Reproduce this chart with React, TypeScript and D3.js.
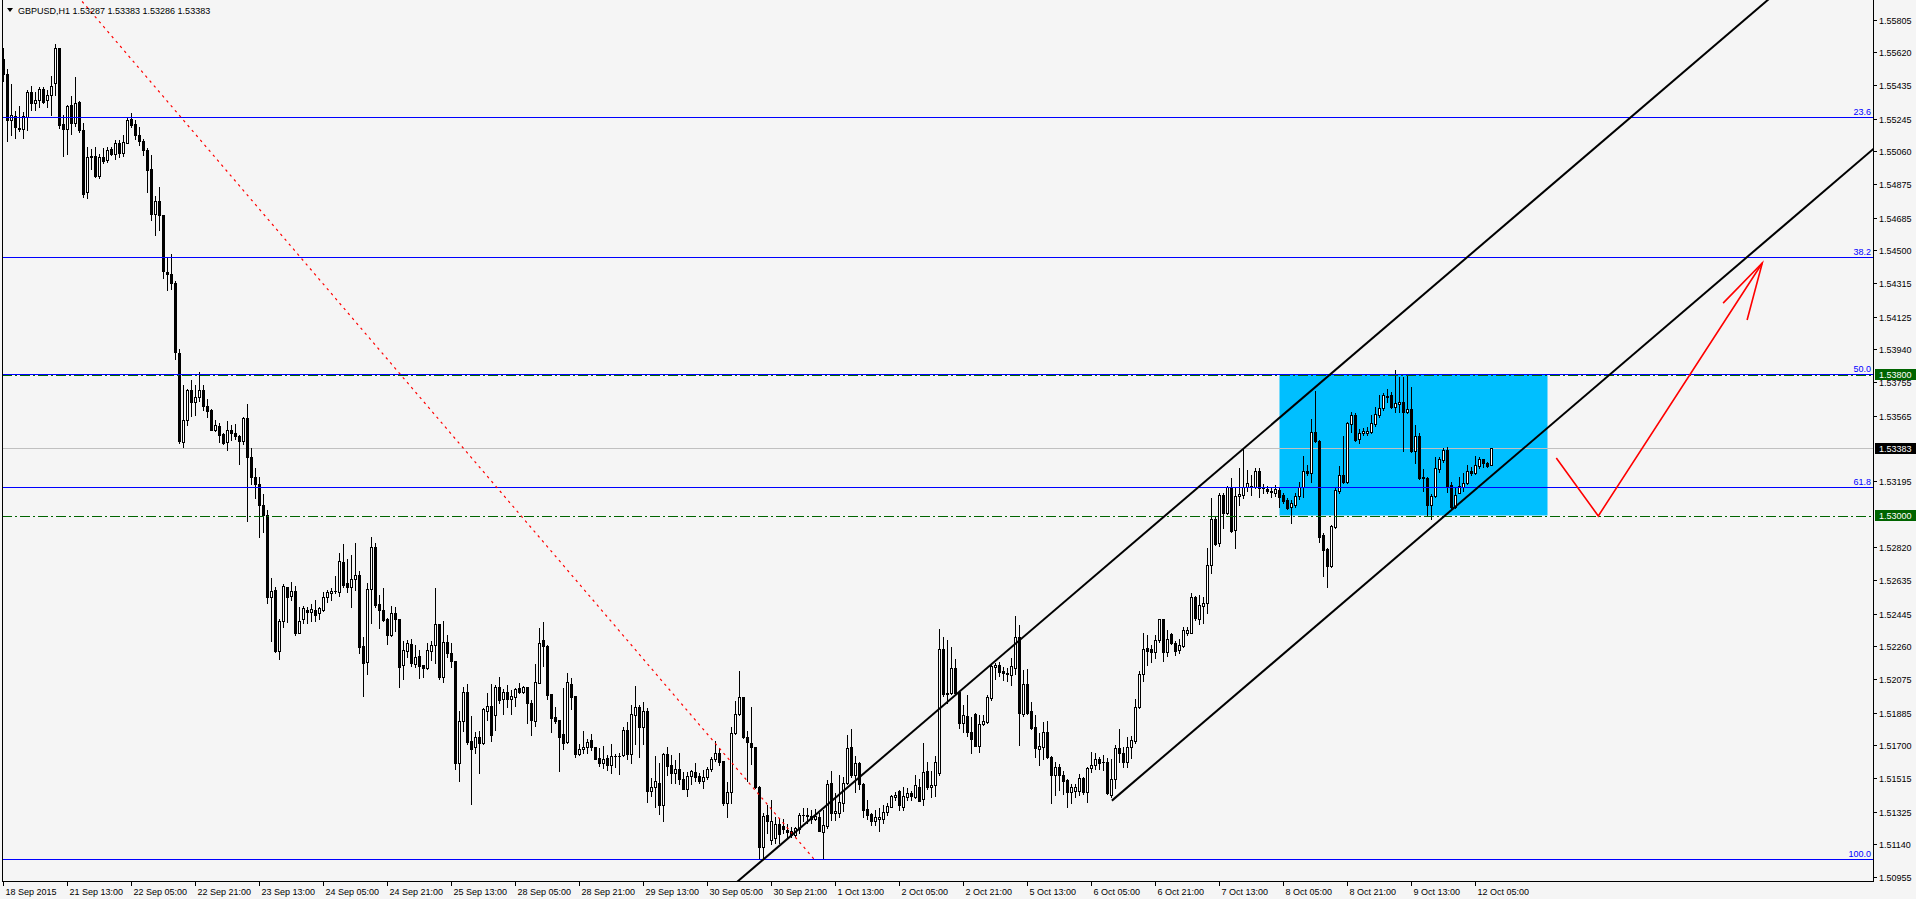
import React from 'react';
import * as d3 from 'd3';

// ---------- DATA ----------
// Candles: [open, high, low, close] in pips above 1.50000 (GBPUSD, H1)
const BASE_PRICE = 1.5;
const PIP = 0.0001;
const candles: number[][] = [
  [558.0,564.2,545.7,549.7],[549.7,552.4,511.8,523.4],[523.4,544.1,515.1,526.6],[525.7,528.5,513.5,519.7],
  [519.2,531.7,517.4,518.3],[518.8,528.0,513.2,525.7],[525.2,540.4,517.8,539.5],[539.5,542.7,529.4,533.1],
  [533.1,539.5,529.4,534.9],[534.9,542.3,530.8,541.1],[541.1,542.3,533.1,534.0],[534.9,540.4,530.8,537.7],
  [537.7,548.7,526.6,542.7],[544.6,566.7,537.7,564.4],[564.4,564.4,519.2,521.1],[521.5,526.6,503.1,518.3],
  [518.8,532.1,504.2,531.7],[532.1,537.2,515.5,522.0],[522.0,548.1,520.4,533.1],[534.0,534.4,516.9,518.1],
  [518.1,522.0,480.0,481.9],[482.8,508.2,479.6,502.6],[502.6,507.2,496.2,503.1],[503.1,508.2,491.6,492.0],
  [492.0,504.2,490.6,502.6],[502.6,507.7,499.6,500.3],[500.8,508.2,500.1,506.8],[507.0,508.2,503.6,504.5],
  [504.5,512.3,501.7,510.5],[510.5,512.3,502.6,504.9],[504.9,515.1,503.1,511.2],[510.9,525.0,510.5,523.8],
  [524.3,527.8,519.7,521.1],[521.5,523.8,512.8,515.1],[515.1,519.7,509.5,511.8],[511.8,512.8,504.0,506.6],
  [506.8,507.7,482.8,495.2],[495.7,504.0,467.1,470.3],[470.3,480.5,458.6,477.7],[477.7,485.8,461.6,469.7],
  [470.1,470.1,434.4,438.1],[437.6,445.4,427.5,436.7],[436.7,447.7,427.9,431.6],[431.6,432.8,388.7,392.4],
  [392.0,394.3,341.2,342.2],[341.7,374.0,338.9,353.7],[353.7,371.7,350.9,371.2],[371.2,376.7,356.0,364.3],
  [364.3,374.0,356.7,367.1],[367.1,381.3,364.7,371.2],[371.2,374.0,359.7,362.0],[362.0,365.7,355.5,359.0],
  [359.5,360.1,348.2,348.6],[348.6,353.7,347.7,350.9],[350.5,352.1,341.7,345.4],[345.8,346.8,340.3,341.2],
  [341.7,353.3,337.1,348.6],[348.6,351.4,342.6,346.8],[346.8,351.8,343.5,344.9],[344.9,345.4,329.0,342.2],
  [342.2,355.5,340.6,355.1],[355.1,363.3,297.0,332.9],[332.9,338.0,318.0,322.0],[322.0,327.0,310.0,318.0],
  [318.0,322.0,287.6,306.0],[306.0,312.0,290.8,300.0],[300.0,303.0,250.3,253.7],[253.7,264.4,229.2,257.5],
  [257.8,259.3,223.0,223.5],[223.5,241.6,219.0,240.1],[240.1,261.2,236.7,260.1],[259.3,259.7,239.9,253.7],
  [254.4,262.4,252.2,257.1],[257.1,260.1,232.6,233.7],[233.3,248.0,233.3,240.1],[241.6,248.8,239.0,247.4],
  [246.5,248.0,239.4,245.6],[245.6,249.9,240.5,246.9],[246.5,252.2,240.5,243.9],[245.0,248.4,241.2,247.4],
  [246.5,256.7,246.1,254.1],[253.7,257.8,251.2,256.7],[256.3,258.8,252.2,257.3],[257.1,265.7,256.3,257.3],
  [256.7,278.9,254.4,274.0],[273.7,283.8,259.7,260.9],[261.6,275.2,256.9,259.7],[259.7,277.6,248.4,264.2],
  [263.9,284.2,257.8,266.1],[266.1,268.8,222.4,225.8],[226.2,231.0,198.1,216.7],[217.3,261.6,210.3,258.2],
  [258.2,287.6,239.4,281.9],[281.9,284.2,248.0,249.3],[249.7,255.0,236.5,246.5],[246.5,258.8,240.5,240.9],
  [241.6,242.0,227.3,232.6],[232.4,248.8,231.8,244.6],[244.6,248.0,234.8,241.2],[241.2,241.6,203.2,214.5],
  [215.6,229.2,207.7,223.9],[223.5,229.5,220.1,227.7],[227.3,230.3,214.8,216.7],[216.0,226.7,214.5,220.1],
  [220.5,223.9,208.3,214.8],[215.4,215.4,208.8,213.9],[213.5,228.0,213.2,223.9],[223.5,229.2,218.2,226.7],
  [226.7,258.8,216.7,238.4],[238.4,238.4,207.7,208.8],[208.8,240.3,206.0,228.2],[228.2,232.4,220.1,222.0],
  [222.0,227.7,214.5,217.9],[217.5,217.5,156.4,160.2],[160.2,189.4,150.0,183.5],[183.5,202.8,178.3,200.3],
  [200.3,204.5,170.7,172.0],[172.4,186.6,136.8,168.1],[168.8,177.3,165.4,174.9],[174.9,178.3,154.5,171.1],
  [171.1,191.3,170.7,190.3],[189.6,199.4,184.3,192.2],[192.2,204.7,172.6,176.0],[187.1,204.1,178.6,202.8],
  [202.8,208.4,193.7,195.6],[196.4,202.0,187.7,200.1],[200.1,203.9,191.8,196.4],[196.4,201.3,187.7,197.9],
  [197.1,202.4,192.2,202.0],[202.2,205.0,199.8,200.3],[200.3,203.5,199.4,202.8],[202.8,203.2,182.8,194.1],
  [194.1,195.6,176.0,184.3],[183.9,216.0,180.9,205.6],[205.4,236.5,205.0,227.7],[229.5,239.7,214.8,226.3],
  [226.3,226.7,196.4,198.6],[199.0,199.0,177.5,185.4],[185.8,191.5,182.4,183.9],[184.3,184.3,155.5,174.9],
  [176.4,202.6,168.1,171.5],[172.0,210.7,171.1,205.6],[204.7,207.9,190.5,197.5],[197.9,197.9,163.6,165.1],
  [165.1,170.7,164.7,167.7],[167.7,177.9,165.4,168.8],[169.2,173.7,165.4,171.7],[173.0,176.4,167.3,168.8],
  [168.8,169.2,162.1,162.4],[162.8,168.3,158.3,159.8],[159.8,169.6,157.0,162.1],[162.8,164.7,156.0,159.0],
  [159.0,170.7,154.5,163.9],[163.9,164.9,157.9,164.1],[164.1,165.8,154.0,164.1],[164.3,180.5,163.9,178.6],
  [178.6,183.2,162.1,165.1],[165.1,193.0,160.2,187.7],[187.3,203.5,170.7,191.5],[191.8,192.6,163.2,180.5],
  [180.5,194.5,170.7,189.2],[189.2,190.9,138.1,144.3],[144.3,151.3,141.3,146.2],[146.2,163.9,134.9,149.6],
  [148.9,159.8,131.1,136.4],[136.0,165.8,127.4,165.1],[165.1,169.2,153.0,158.3],[158.7,164.3,148.5,154.5],
  [154.5,161.7,148.9,156.4],[156.4,165.8,148.1,150.7],[151.1,154.9,145.5,145.5],[145.5,154.9,141.3,152.6],
  [152.6,156.0,148.1,155.3],[154.9,159.8,150.0,152.3],[152.6,154.1,148.9,150.0],[149.6,156.0,145.8,151.9],
  [151.9,157.9,151.1,156.4],[156.4,163.6,155.3,162.4],[162.4,172.6,161.3,165.8],[165.8,168.5,158.7,160.7],
  [161.3,161.3,136.0,137.6],[137.6,149.2,129.6,143.6],[143.6,180.2,137.2,176.8],[176.8,195.2,176.4,187.7],
  [187.7,212.2,187.3,197.1],[197.1,197.5,174.1,174.5],[174.9,177.9,150.0,171.9],[171.5,191.8,159.4,169.2],
  [169.2,169.2,145.6,146.2],[146.6,147.0,105.5,112.6],[112.6,131.5,105.5,130.0],[130.6,136.2,120.2,127.4],
  [116.4,139.0,114.2,127.4],[117.4,129.3,114.5,125.5],[125.5,128.9,114.5,119.8],[124.4,128.1,120.2,122.5],
  [122.1,125.5,118.3,121.0],[121.7,123.6,118.0,119.1],[119.3,124.0,118.3,123.0],[122.8,131.5,120.2,130.4],
  [130.4,134.3,127.4,130.6],[130.4,134.5,125.9,130.0],[130.0,133.4,126.2,128.5],[128.5,133.8,127.7,130.0],
  [129.3,131.5,121.3,121.7],[121.1,133.4,105.5,124.7],[124.4,150.4,123.0,148.1],[148.5,155.6,127.7,131.5],
  [131.5,142.8,127.7,132.6],[131.9,153.0,129.3,138.1],[137.5,152.2,133.0,148.5],[148.5,175.8,148.1,168.3],
  [168.8,179.0,152.2,153.2],[153.2,163.9,143.6,159.8],[159.8,160.6,145.1,148.1],[148.1,148.5,129.3,133.4],
  [133.8,139.0,128.1,130.6],[131.1,131.9,125.1,127.4],[127.4,133.4,124.9,129.6],[128.1,134.3,121.7,129.3],
  [128.5,136.4,125.9,132.3],[132.3,137.5,130.6,135.7],[135.3,142.1,134.9,141.3],[140.9,143.6,139.0,142.1],
  [144.3,144.7,133.4,136.0],[135.3,146.2,133.4,141.3],[140.9,145.8,139.0,142.8],[143.2,144.3,139.0,141.3],
  [140.5,153.0,140.0,147.7],[146.2,150.7,138.3,138.7],[139.4,171.5,136.0,155.1],[155.3,160.7,145.1,146.2],
  [146.2,155.6,140.9,147.5],[147.7,163.9,141.3,160.7],[154.1,235.6,153.4,224.3],[224.3,231.0,197.9,199.0],
  [199.0,229.5,193.7,199.8],[199.4,225.8,199.0,213.5],[213.5,219.0,199.0,199.4],[200.1,200.5,179.8,182.8],
  [182.8,193.0,177.7,187.1],[186.6,198.6,175.2,177.7],[177.7,186.2,165.8,173.7],[187.5,188.4,169.6,169.8],
  [169.8,187.3,166.4,182.0],[182.0,187.3,181.3,183.5],[183.2,198.3,182.4,197.1],[196.7,215.2,195.6,214.8],
  [214.5,216.4,207.3,215.4],[215.4,217.3,209.2,211.6],[211.8,214.5,206.9,211.1],[211.1,213.5,206.6,210.3],
  [209.7,219.2,204.1,214.8],[213.5,243.1,210.3,231.0],[231.0,238.0,170.2,188.1],[187.7,212.6,186.6,204.7],
  [204.7,213.0,187.7,188.4],[189.2,194.7,179.0,179.8],[180.1,187.1,163.2,168.3],[168.1,177.1,158.7,169.6],
  [169.2,183.4,162.4,177.5],[177.5,183.9,162.8,163.2],[163.6,163.9,137.2,153.2],[153.2,160.7,141.9,157.5],
  [157.5,159.4,144.7,153.0],[153.0,155.6,142.4,150.0],[150.4,150.7,134.9,143.7],[143.6,148.1,137.5,146.2],
  [143.9,148.1,141.0,146.2],[143.9,153.7,141.9,151.3],[151.3,152.3,142.3,143.7],[143.7,157.9,138.1,157.3],
  [157.0,166.2,155.1,158.8],[158.8,165.4,156.4,162.2],[162.2,163.2,156.8,160.2],[160.3,164.5,156.0,160.3],
  [160.3,162.6,142.4,142.8],[141.9,162.4,141.0,150.7],[150.7,170.2,145.6,168.3],[168.3,179.2,160.7,165.8],
  [165.8,169.2,157.5,160.7],[160.7,174.9,157.9,168.8],[168.8,175.3,162.6,173.0],[172.6,196.0,171.1,191.8],
  [191.8,212.2,190.9,210.3],[210.3,233.3,206.6,224.3],[224.8,232.2,215.4,223.5],[224.3,226.7,217.3,222.9],
  [222.9,232.2,219.2,229.5],[229.5,241.6,228.6,241.2],[241.2,241.6,217.9,222.9],[222.9,235.2,220.5,229.9],
  [232.9,233.3,227.3,228.0],[228.0,229.2,221.1,223.5],[223.9,229.9,222.0,226.7],[226.1,236.7,225.4,235.2],
  [233.7,237.1,232.4,235.2],[233.7,255.9,233.3,253.7],[254.1,254.4,240.9,241.8],[241.2,255.0,238.6,249.2],
  [248.8,254.1,239.0,250.7],[250.7,281.4,245.0,271.8],[271.8,309.7,267.2,297.8],[297.8,299.7,283.3,283.8],
  [284.6,312.5,282.7,311.6],[311.6,312.9,292.7,301.6],[301.6,316.6,300.8,316.3],[316.3,321.0,290.8,291.4],
  [291.8,316.3,281.4,311.0],[311.0,326.6,305.9,312.1],[311.4,337.4,309.7,316.3],[315.9,325.7,314.0,318.2],
  [316.6,322.9,311.6,315.9],[315.9,326.6,315.5,324.9],[324.9,326.6,310.6,315.5],[316.3,317.8,312.9,315.5],
  [315.1,316.6,312.5,314.0],[314.0,315.7,310.6,313.3],[312.9,317.4,311.0,315.1],[314.4,315.7,305.0,310.6],
  [311.4,312.9,307.2,308.4],[308.7,309.9,303.8,304.2],[304.6,308.7,295.9,306.8],[306.1,312.5,304.6,311.0],
  [311.0,319.1,309.1,316.3],[316.3,333.6,310.2,324.9],[324.9,328.5,322.9,323.8],[324.2,354.4,319.1,347.2],
  [347.2,370.6,341.5,341.9],[342.1,342.7,285.2,288.0],[288.9,289.9,265.8,280.4],[280.8,281.4,259.7,271.4],
  [271.4,294.6,271.0,294.0],[293.3,316.3,292.7,314.4],[314.0,327.9,312.5,322.7],[322.7,344.9,318.5,318.9],
  [318.9,352.8,318.5,352.1],[351.7,358.7,347.4,356.8],[356.8,358.1,341.9,342.7],[343.0,349.1,340.8,346.4],
  [346.4,349.3,345.5,347.9],[346.8,350.2,345.3,347.9],[347.4,356.8,346.4,352.1],[351.7,361.5,350.6,357.4],
  [356.8,368.1,355.5,360.6],[360.6,369.1,359.6,367.9],[367.2,371.3,364.3,367.6],[368.1,370.0,360.6,361.1],
  [361.5,382.3,358.7,363.8],[363.0,378.5,358.7,364.2],[364.2,378.5,336.6,358.7],[358.7,379.4,357.7,360.0],
  [360.0,372.5,336.1,336.6],[336.6,351.1,329.4,344.9],[344.9,346.4,320.4,321.0],[321.0,326.0,314.0,321.5],
  [321.0,321.9,299.7,305.9],[305.9,312.1,297.8,311.0],[311.0,333.2,310.2,326.6],[326.1,333.2,324.8,331.7],
  [331.3,337.9,330.4,337.0],[337.0,338.5,313.4,315.9],[317.2,319.1,304.0,305.0],[305.0,315.3,304.0,311.6],
  [312.9,321.9,312.5,316.6],[316.3,323.8,314.0,318.5],[318.2,328.5,317.8,325.3],[325.1,327.2,322.9,323.8],
  [323.8,333.6,323.4,328.3],[327.9,333.2,326.6,331.7],[331.7,332.1,327.2,329.4],[329.4,330.4,327.2,327.9],
  [328.7,338.3,328.6,338.3],
];

const priceTicks = [
  1.55805, 1.55620, 1.55435, 1.55245, 1.55060, 1.54875, 1.54685, 1.54500, 1.54315, 1.54125,
  1.53940, 1.53755, 1.53565, 1.53195, 1.52820, 1.52635, 1.52445, 1.52260, 1.52075, 1.51885,
  1.51700, 1.51515, 1.51325, 1.51140, 1.50955,
];
const priceDomain = [1.50955, 1.55805];

const timeLabels = [
  '18 Sep 2015', '21 Sep 13:00', '22 Sep 05:00', '22 Sep 21:00', '23 Sep 13:00', '24 Sep 05:00',
  '24 Sep 21:00', '25 Sep 13:00', '28 Sep 05:00', '28 Sep 21:00', '29 Sep 13:00', '30 Sep 05:00',
  '30 Sep 21:00', '1 Oct 13:00', '2 Oct 05:00', '2 Oct 21:00', '5 Oct 13:00', '6 Oct 05:00',
  '6 Oct 21:00', '7 Oct 13:00', '8 Oct 05:00', '8 Oct 21:00', '9 Oct 13:00', '12 Oct 05:00',
];
const BARS_PER_LABEL = 16;

const fibLevels = [
  { label: '23.6', price: 1.55255 },
  { label: '38.2', price: 1.54460 },
  { label: '50.0', price: 1.53800 },
  { label: '61.8', price: 1.53161 },
  { label: '100.0', price: 1.51057 },
];
const fibAnchors = [[-4.6, 1.5655], [202.6, 1.51057]];

const markedLevels = [
  { price: 1.53800, text: '1.53800' },
  { price: 1.53000, text: '1.53000' },
];
const bidPrice = 1.53383;
const headerText = 'GBPUSD,H1  1.53287 1.53383 1.53286 1.53383';

const channelUpper = [[187.1, 1.50999], [311.7, 1.53411]];
const channelLower = [[277.1, 1.51387], [374.2, 1.53267]];
const zoneBars = [319, 386];
const zonePrices = [1.5300, 1.5380];
const arrowPath = [[388.2, 1.53325], [398.7, 1.52997], [439.7, 1.54428]];
const arrowHead = [[429.9, 1.54201], [439.7, 1.54428], [435.9, 1.54105]];

// ---------- LAYOUT ----------
const W = 1916;
const H = 899;
const PL = 2, PR = 1873, PT = 0, PB = 881;
const FONT = "'Liberation Sans', Arial, sans-serif";
const BG = '#f5f5f5';

export default function App() {
  const y = d3.scaleLinear().domain(priceDomain).range([877, 19.5]);
  const x = d3.scaleLinear().domain([0, 1]).range([3.5, 7.5]);
  const price = (v: number) => BASE_PRICE + v * PIP;
  const line = d3.line<number[]>().x((d) => x(d[0])).y((d) => y(d[1]));

  const extend = (a: number[][], from: number, to: number) => {
    const [p0, p1] = a;
    const k = (p1[1] - p0[1]) / (p1[0] - p0[0]);
    return [[from, p0[1] + (from - p0[0]) * k], [to, p0[1] + (to - p0[0]) * k]];
  };

  const candleEls = candles.map((c, i) => {
    const [o, h, l, cl] = c.map(price);
    const cx = Math.round(x(i) - 0.5);
    const yh = Math.round(y(h));
    const yl = Math.round(y(l));
    const top = Math.round(y(Math.max(o, cl)));
    const bot = Math.round(y(Math.min(o, cl)));
    const bull = cl > o;
    return (
      <g key={i}>
        <rect x={cx} y={yh} width={1} height={Math.max(1, yl - yh + 1)} fill="#000" />
        <rect x={cx - 1} y={top} width={3} height={Math.max(1, bot - top + 1)} fill="#000" />
        {bull && bot - top >= 2 && (
          <rect x={cx} y={top + 1} width={1} height={bot - top - 1} fill="#fff" />
        )}
      </g>
    );
  });

  const hy = (p: number) => Math.round(y(p)) + 0.5;

  return (
    <svg
      width={W}
      height={H}
      style={{ position: 'fixed', left: 0, top: 0, background: BG }}
      fontFamily={FONT}
    >
      <defs>
        <clipPath id="plot">
          <rect x={PL} y={PT} width={PR - PL} height={PB - PT} />
        </clipPath>
      </defs>
      <rect x={0} y={0} width={W} height={H} fill={BG} />

      <g clipPath="url(#plot)">
        {/* zone rectangle (background) */}
        <rect
          x={x(zoneBars[0])}
          y={y(zonePrices[1])}
          width={x(zoneBars[1]) - x(zoneBars[0])}
          height={y(zonePrices[0]) - y(zonePrices[1])}
          fill="#00bfff"
        />
        {/* bid line */}
        <line x1={PL} x2={PR} y1={hy(bidPrice)} y2={hy(bidPrice)} stroke="#c0c0c0" strokeWidth={1} />

        {candleEls}

        {/* fibo levels */}
        {fibLevels.map((f) => (
          <g key={f.label}>
            <line x1={PL} x2={PR} y1={hy(f.price)} y2={hy(f.price)} stroke="#0000ff" strokeWidth={1} />
            <text x={PR - 2} y={hy(f.price) - 2.5} textAnchor="end" fontSize={9} fill="#0000ff">
              {f.label}
            </text>
          </g>
        ))}
        <path
          d={line(fibAnchors) || ''}
          stroke="#ff0000"
          strokeWidth={1.2}
          strokeDasharray="2.5,4"
          fill="none"
        />
        {/* dash-dot price levels */}
        {markedLevels.map((m) => (
          <line
            key={m.text}
            x1={PL}
            x2={PR}
            y1={hy(m.price) + 1}
            y2={hy(m.price) + 1}
            stroke="#006400"
            strokeWidth={1}
            strokeDasharray="10,3,2,3"
          />
        ))}
        {/* channel */}
        <path d={line(extend(channelUpper, 150, 500)) || ''} stroke="#000" strokeWidth={2} fill="none" />
        <path d={line(extend(channelLower, channelLower[0][0], 500)) || ''} stroke="#000" strokeWidth={2} fill="none" />
        {/* red arrow */}
        <path d={line(arrowPath) || ''} stroke="#ff0000" strokeWidth={1.6} fill="none" />
        <path d={line(arrowHead) || ''} stroke="#ff0000" strokeWidth={1.6} fill="none" />
      </g>

      {/* frame */}
      <line x1={PL + 0.5} x2={PL + 0.5} y1={PT} y2={PB} stroke="#000" />
      <line x1={PR + 0.5} x2={PR + 0.5} y1={PT} y2={PB + 1} stroke="#000" />
      <line x1={PL} x2={PR + 1} y1={PB + 0.5} y2={PB + 0.5} stroke="#000" />

      {/* price axis */}
      {priceTicks.map((p) => (
        <g key={p}>
          <line x1={PR} x2={PR + 4} y1={hy(p)} y2={hy(p)} stroke="#000" />
          <text x={PR + 6} y={hy(p) + 3.5} fontSize={9} fill="#000">
            {p.toFixed(5)}
          </text>
        </g>
      ))}
      {markedLevels.map((m) => (
        <g key={'box' + m.text}>
          <rect x={PR + 2} y={Math.round(y(m.price)) - 5} width={W - PR - 2} height={11} fill="#006400" />
          <text x={PR + 6} y={Math.round(y(m.price)) + 3.5} fontSize={9} fill="#ffffff">
            {m.text}
          </text>
        </g>
      ))}
      <rect x={PR + 2} y={Math.round(y(bidPrice)) - 5} width={W - PR - 2} height={11} fill="#000" />
      <text x={PR + 6} y={Math.round(y(bidPrice)) + 3.5} fontSize={9} fill="#ffffff">
        {bidPrice.toFixed(5)}
      </text>

      {/* time axis */}
      {timeLabels.map((t, k) => {
        const tx = Math.round(x(k * BARS_PER_LABEL) - 0.5) + 0.5;
        return (
          <g key={t}>
            <line x1={tx} x2={tx} y1={PB + 1} y2={PB + 5} stroke="#000" />
            <text x={tx + 2} y={PB + 14} fontSize={9} fill="#000">
              {t}
            </text>
          </g>
        );
      })}

      {/* header */}
      <path d="M7,8 L13,8 L10,12 Z" fill="#000" />
      <text x={18} y={14} fontSize={9} fill="#000">
        {headerText}
      </text>
    </svg>
  );
}
